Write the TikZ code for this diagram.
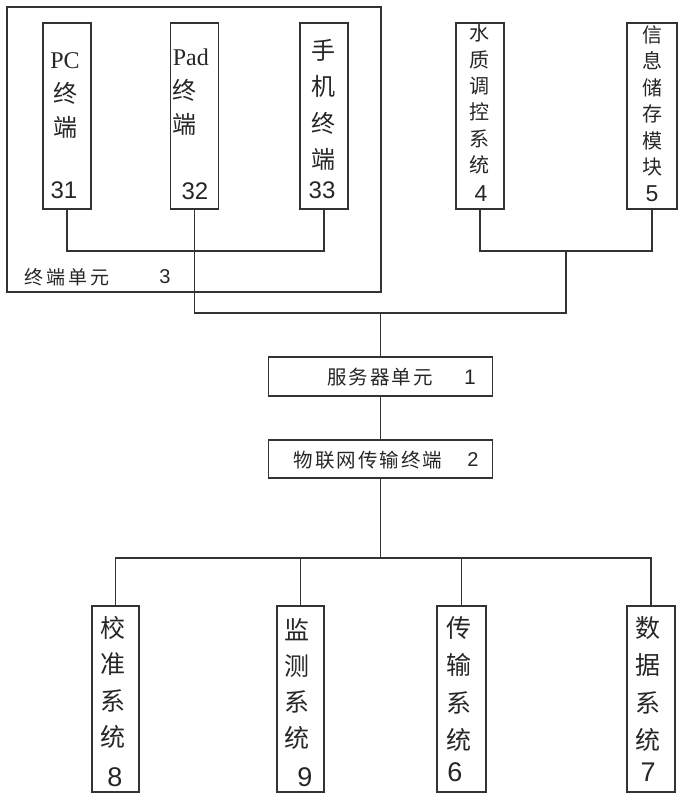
\documentclass[tikz,border=0pt]{standalone}
\usepackage{fontspec}
\setmainfont{Liberation Serif}
\newfontfamily\cjk{Noto Sans CJK SC}
\newfontfamily\arial{Liberation Sans}
\newcommand\gp{\hspace{2pt}}
\newcommand\gq{\hspace{3pt}}
\begin{document}
\begin{tikzpicture}[x=1pt,y=-1pt,
  line width=1.6pt,
  every node/.style={inner sep=0pt, text=black!85},
  frame/.style={draw=black!80, line width=1.6pt},
  tallbox/.style={frame, minimum width=48pt, minimum height=186pt},
  widebox/.style={frame, minimum width=224pt, minimum height=39pt},
  conn/.style={draw=black!80, line width=1.6pt}]
\useasboundingbox (0,0) rectangle (684,800);

% terminal unit frame
\node[frame, minimum width=374pt, minimum height=285pt] (unit) at (194,149.5) {};
\node[tallbox] (pc) at (67,116) {};
\node[tallbox] (pad) at (194.5,116) {};
\node[tallbox] (phone) at (324,116) {};
\node[tallbox] (wq) at (480,116) {};
\node[tallbox, minimum width=50pt] (store) at (652,116) {};
\node[widebox] (server) at (380.5,376.5) {};
\node[widebox, minimum height=38pt] (iot) at (380.5,459) {};
\node[tallbox, minimum width=47pt] (cal) at (115.5,699) {};
\node[tallbox, minimum width=47pt] (mon) at (300.5,699) {};
\node[tallbox, minimum width=49pt] (tra) at (461.5,699) {};
\node[tallbox] (dat) at (651,699) {};

% texts top-left
\node[align=center, font=\fontsize{24}{34}\selectfont] (pct) at (65,96) {PC\\{\cjk 终}\\{\cjk 端}};
\node[font=\arial\fontsize{24}{24}\selectfont] (pcn) at (64,190) {31};
\node[align=left, anchor=west, font=\fontsize{24}{34}\selectfont] (padt) at (172,92) {Pad\\{\cjk 终}\\{\cjk 端}};
\node[font=\arial\fontsize{24}{24}\selectfont] (padn) at (195,191) {32};
\node[align=center, font=\cjk\fontsize{24}{36.5}\selectfont] (phonet) at (323,105) {手\\机\\终\\端};
\node[font=\arial\fontsize{24}{24}\selectfont] (phonen) at (322,190) {33};
\node[font=\cjk\fontsize{19}{19}\selectfont] (unitt) at (67,277) {终\gq 端\gq 单\gq 元};
\node[font=\arial\fontsize{20}{20}\selectfont] (unitn) at (165,277) {3};

% texts top-right
\node[align=center, font=\cjk\fontsize{20}{26.4}\selectfont] (wqt) at (479,99) {水\\质\\调\\控\\系\\统};
\node[font=\arial\fontsize{23}{23}\selectfont] (wqn) at (481,194) {4};
\node[align=center, font=\cjk\fontsize{20}{26.4}\selectfont] (storet) at (652,101) {信\\息\\储\\存\\模\\块};
\node[font=\arial\fontsize{23}{23}\selectfont] (storen) at (652,194) {5};

% middle
\node[font=\cjk\fontsize{19.5}{19.5}\selectfont] (servert) at (380,377) {服\gp 务\gp 器\gp 单\gp 元};
\node[font=\arial\fontsize{21}{21}\selectfont] (servern) at (470,377) {1};
\node[font=\cjk\fontsize{19.5}{19.5}\selectfont] (iott) at (368,460) {物\gp 联\gp 网\gp 传\gp 输\gp 终\gp 端};
\node[font=\arial\fontsize{20}{20}\selectfont] (iotn) at (473,460) {2};

% bottom
\node[align=center, font=\cjk\fontsize{25}{36.3}\selectfont] (calt) at (113,682.5) {校\\准\\系\\统};
\node[font=\arial\fontsize{27}{27}\selectfont] (caln) at (115,777) {8};
\node[align=center, font=\cjk\fontsize{25}{36.3}\selectfont] (mont) at (297,684) {监\\测\\系\\统};
\node[font=\arial\fontsize{27}{27}\selectfont] (monn) at (305,777) {9};
\node[align=center, font=\cjk\fontsize{25}{37.3}\selectfont] (trat) at (459,684) {传\\输\\系\\统};
\node[font=\arial\fontsize{27}{27}\selectfont] (tran) at (455,772) {6};
\node[align=center, font=\cjk\fontsize{25}{37.3}\selectfont] (datt) at (648,684) {数\\据\\系\\统};
\node[font=\arial\fontsize{27}{27}\selectfont] (datn) at (648,772) {7};

% connectors
\coordinate (jt) at (380.5,313);
\coordinate (jr) at (566,313);
\coordinate (jr2) at (566,251);
\draw[conn] (pc.south) -- ++(0,41) -| (phone.south);
\draw[conn] (pad.south) |- (jr) -- (jr2);
\draw[conn] (wq.south) |- (jr2) -| (store.south);
\draw[conn] (server.north) -- (jt);
\draw[conn] (server.south) -- (iot.north);
\draw[conn] (iot.south) -- ++(0,79) coordinate (jb);
\draw[conn] (cal.north) |- (jb) -| (dat.north);
\draw[conn] (mon.north) -- (mon.north |- jb);
\draw[conn] (tra.north) -- (tra.north |- jb);
\end{tikzpicture}
\end{document}
